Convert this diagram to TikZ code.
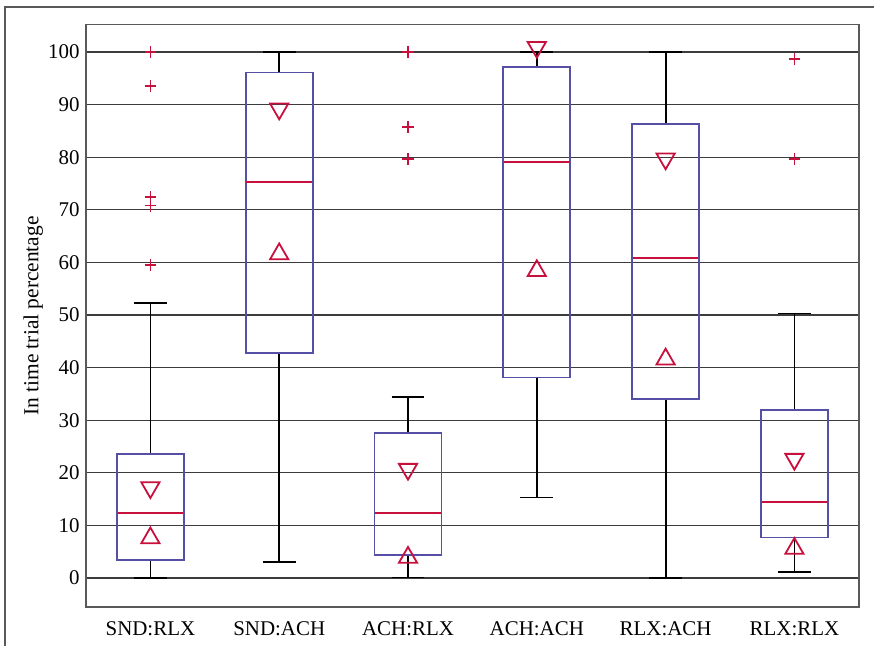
\documentclass[tikz,border=0pt]{standalone}
\usepackage{fontspec}
\setmainfont{Liberation Serif}
\usetikzlibrary{shapes.geometric}
\definecolor{boxblue}{RGB}{85,80,165}
\definecolor{markred}{RGB}{200,16,60}
\definecolor{gridgray}{RGB}{60,60,60}
\tikzset{
  gridline/.style={gridgray, line width=1.1bp},
  axisframe/.style={gray!70!black, line width=1.4bp},
  whisker/.style={black, line width=1.8bp},
  iqrbox/.style={boxblue, line width=1.8bp},
  medianline/.style={markred, line width=1.7bp},
  outlier/.style={markred, line width=1.8bp},
  tri/.style={regular polygon, regular polygon sides=3, draw=markred, line width=1.8bp, inner sep=0pt, minimum size=21bp},
  triup/.style={tri},
  tridown/.style={tri, shape border rotate=180}
}
\begin{document}
\begin{tikzpicture}[x=128.8bp, y=5.26bp, font=\fontsize{21}{24}\selectfont]
\useasboundingbox (0bp,0bp) rectangle (874bp,646bp);
% outer frame
\draw[axisframe, line width=1.2bp] (874bp,639bp) -- (5bp,639bp) -- (5bp,0bp);
\begin{scope}[shift={(21.6bp,68bp)}]
% grid and y axis
\foreach \v in {0,10,...,100} {
    \draw[gridline] (0.5,\v) -- (6.5,\v);
    \node[left=3bp] (ytick\v) at (0.5,\v) {\v};
}
\draw[axisframe] (0.5,-5.5) rectangle (6.5,105.2);
\node[rotate=90, font=\fontsize{21.5}{24}\selectfont] (ytitle) at (0.09,49.8) {In time trial percentage};

% boxes: index/label/low/q1/median/q3/high/down/up
\foreach \i/\lab/\lo/\qa/\med/\qb/\hi/\dn/\up in {
    1/SND:RLX/0/3.4/12.4/23.5/52.3/17.2/7.6,
    2/SND:ACH/3.1/42.7/75.3/96.1/100/89.2/61.6,
    3/ACH:RLX/0.1/4.4/12.4/27.6/34.4/20.7/3.9,
    4/ACH:ACH/15.3/38.1/79.1/97.1/100/100.9/58.4,
    5/RLX:ACH/0/34/60.8/86.3/100/79.7/41.6,
    6/RLX:RLX/1.1/7.7/14.4/31.9/50.3/22.6/5.6} {
    \draw[whisker] (\i,\lo) -- (\i,\qa) (\i,\qb) -- (\i,\hi);
    \draw[whisker] ({\i-0.128},\lo) -- ({\i+0.128},\lo);
    \draw[whisker] ({\i-0.128},\hi) -- ({\i+0.128},\hi);
    \draw[iqrbox] ({\i-0.26},\qa) rectangle ({\i+0.26},\qb);
    \draw[medianline] ({\i-0.255},\med) -- ({\i+0.255},\med);
    \node[tridown] (dn\i) at (\i,\dn) {};
    \node[triup] (up\i) at (\i,\up) {};
    \node (lab\i) at (\i,-9.7) {\lab};
}

% outliers
\foreach \i/\v in {1/100,1/93.5,1/72.5,1/70.8,1/59.5,3/100,3/85.8,3/79.6,6/98.6,6/79.7}
    \draw[outlier] ({\i-0.044},\v) -- ({\i+0.044},\v) (\i,{\v-1.14}) -- (\i,{\v+1.14});
\end{scope}
\end{tikzpicture}
\end{document}
